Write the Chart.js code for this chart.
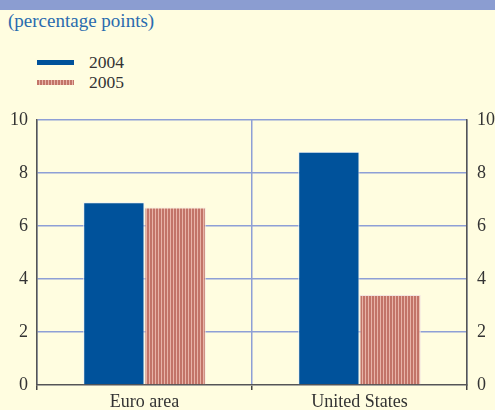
<!DOCTYPE html>
<html lang="en">
<head>
    <meta charset="UTF-8">
    <title>Percentage points</title>
    <script src="https://cdn.jsdelivr.net/npm/chart.js"></script>
    <style>
        body { margin: 0; background: #fffde0; font-family: "Liberation Serif", "Times New Roman", serif; }
        .wrap { position: relative; width: 495px; height: 410px; overflow: hidden; }
        .band { position: absolute; left: 0; top: 0; width: 495px; height: 10px; background: #8b9dd1; }
        .title { position: absolute; left: 8px; top: 10px; font-size: 19px; color: #2a6bae; }
        .legend { position: absolute; left: 37px; top: 52px; font-size: 17.5px; color: #333; }
        .legend div { height: 20px; line-height: 20px; }
        .sw { display: inline-block; width: 37px; height: 5px; vertical-align: middle; margin-right: 15px; position: relative; top: -1px; }
        .sw1 { background: #00529b; }
        .sw2 { background: repeating-linear-gradient(90deg, #c27468 0 2px, #e8b4a8 2px 3px); }
        canvas { position: absolute; left: 0; top: 0; }
    </style>
</head>
<body>
    <div class="wrap">
        <div class="band"></div>
        <div class="title">(percentage points)</div>
        <div class="legend">
            <div><span class="sw sw1"></span>2004</div>
            <div><span class="sw sw2"></span>2005</div>
        </div>
        <canvas id="chart" width="495" height="410"></canvas>
    </div>

    <script>
        const categories = ['Euro area', 'United States'];
        const seriesNames = ['2004', '2005'];
        const values2004 = [6.9, 8.8];
        const values2005 = [6.7, 3.4];
        const yTicks = [0, 2, 4, 6, 8, 10];

        // vertical stripe fill for the 2005 bars
        function stripes() {
            const c = document.createElement('canvas');
            c.width = 3; c.height = 3;
            const g = c.getContext('2d');
            g.fillStyle = '#e8b4a8';
            g.fillRect(0, 0, 3, 3);
            g.fillStyle = '#c27468';
            g.fillRect(0, 0, 2, 3);
            return g.createPattern(c, 'repeat');
        }

        const tickFont = { family: '"Liberation Serif", "Times New Roman", serif', size: 18 };
        const gridBlue = '#8e9fd6';

        new Chart(document.getElementById('chart'), {
            type: 'bar',
            data: {
                labels: categories,
                datasets: [{
                    label: seriesNames[0],
                    data: values2004,
                    backgroundColor: '#00529b',
                    borderColor: '#eef1f6',
                    borderWidth: 1
                }, {
                    label: seriesNames[1],
                    data: values2005,
                    backgroundColor: stripes(),
                    borderColor: '#f3e6e0',
                    borderWidth: 1
                }]
            },
            options: {
                responsive: false,
                animation: false,
                layout: { padding: { top: 120, left: 0, right: 0, bottom: 0 } },
                plugins: { legend: { display: false }, tooltip: { enabled: false } },
                datasets: { bar: { categoryPercentage: 0.57, barPercentage: 1 } },
                scales: {
                    x: {
                        offset: true,
                        grid: { color: gridBlue, lineWidth: 1.5, tickColor: '#444', tickLength: 5, offset: true },
                        border: { color: '#555', width: 1.5 },
                        ticks: { font: tickFont, color: '#333', padding: 1 },
                        afterFit: s => { s.height = 25; }
                    },
                    y: {
                        position: 'left',
                        min: 0, max: 10,
                        afterBuildTicks: s => { s.ticks = yTicks.map(v => ({ value: v })); },
                        grid: { color: c => c.tick.value === 0 ? '#ffffff' : gridBlue, lineWidth: 1.5, drawTicks: false },
                        border: { color: '#555', width: 1.5 },
                        ticks: { font: tickFont, color: '#333', padding: 9 },
                        afterFit: s => { s.width = 37; }
                    },
                    y2: {
                        position: 'right',
                        min: 0, max: 10,
                        afterBuildTicks: s => { s.ticks = yTicks.map(v => ({ value: v })); },
                        grid: { display: false, drawTicks: false },
                        border: { color: '#555', width: 1.5 },
                        ticks: { font: tickFont, color: '#333', padding: 10 },
                        afterFit: s => { s.width = 28; }
                    }
                }
            }
        });
    </script>
</body>
</html>
